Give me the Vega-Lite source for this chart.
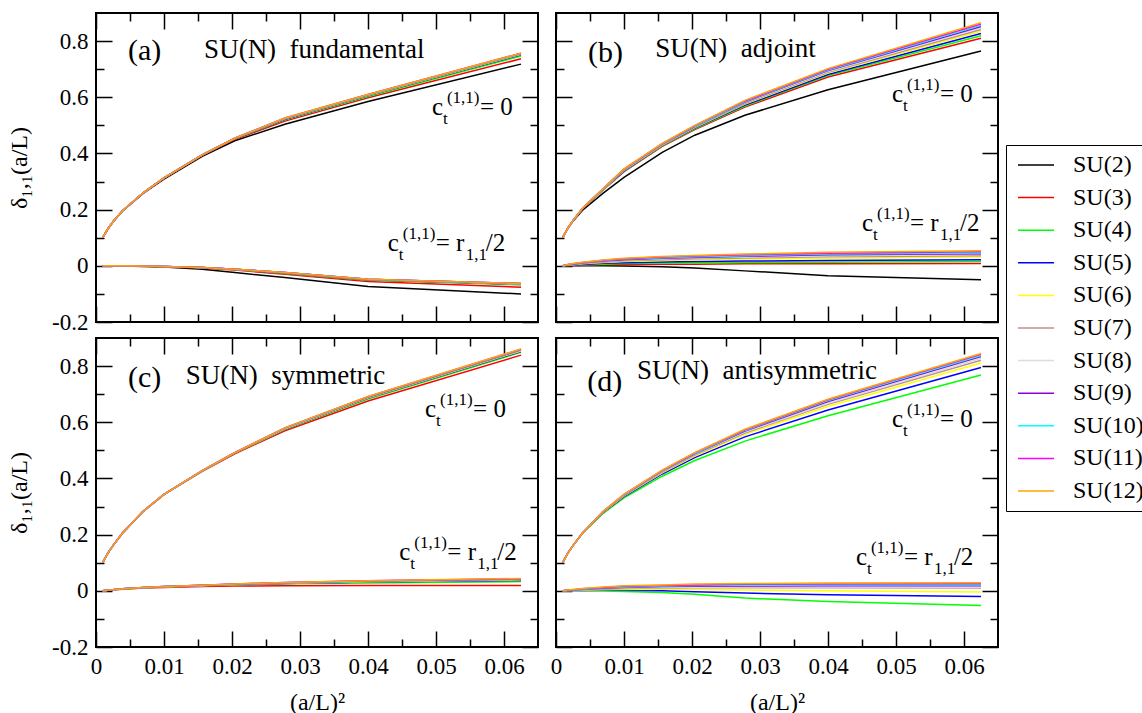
{
  "$schema": "https://vega.github.io/schema/vega-lite/v6.json",
  "background": "white",
  "padding": {"left": 6, "top": 11, "right": 0, "bottom": 0},
  "datasets": {
    "curves": [
      {"p":"a","c":"u","x":0.000977,"SU(2)":0.1,"SU(3)":0.1,"SU(4)":0.1,"SU(5)":0.1,"SU(6)":0.1,"SU(7)":0.1,"SU(8)":0.1,"SU(9)":0.1,"SU(10)":0.1,"SU(11)":0.1,"SU(12)":0.1},
      {"p":"a","c":"u","x":0.001736,"SU(2)":0.131,"SU(3)":0.131,"SU(4)":0.131,"SU(5)":0.131,"SU(6)":0.131,"SU(7)":0.131,"SU(8)":0.131,"SU(9)":0.131,"SU(10)":0.131,"SU(11)":0.131,"SU(12)":0.131},
      {"p":"a","c":"u","x":0.0025,"SU(2)":0.157,"SU(3)":0.157,"SU(4)":0.157,"SU(5)":0.157,"SU(6)":0.157,"SU(7)":0.157,"SU(8)":0.157,"SU(9)":0.157,"SU(10)":0.157,"SU(11)":0.157,"SU(12)":0.157},
      {"p":"a","c":"u","x":0.003906,"SU(2)":0.195,"SU(3)":0.196,"SU(4)":0.196,"SU(5)":0.196,"SU(6)":0.196,"SU(7)":0.196,"SU(8)":0.196,"SU(9)":0.196,"SU(10)":0.196,"SU(11)":0.196,"SU(12)":0.196},
      {"p":"a","c":"u","x":0.006944,"SU(2)":0.258,"SU(3)":0.259,"SU(4)":0.26,"SU(5)":0.26,"SU(6)":0.26,"SU(7)":0.26,"SU(8)":0.26,"SU(9)":0.26,"SU(10)":0.26,"SU(11)":0.26,"SU(12)":0.26},
      {"p":"a","c":"u","x":0.01,"SU(2)":0.309,"SU(3)":0.311,"SU(4)":0.312,"SU(5)":0.313,"SU(6)":0.313,"SU(7)":0.313,"SU(8)":0.313,"SU(9)":0.313,"SU(10)":0.313,"SU(11)":0.313,"SU(12)":0.313},
      {"p":"a","c":"u","x":0.015625,"SU(2)":0.39,"SU(3)":0.393,"SU(4)":0.394,"SU(5)":0.395,"SU(6)":0.395,"SU(7)":0.395,"SU(8)":0.395,"SU(9)":0.395,"SU(10)":0.395,"SU(11)":0.395,"SU(12)":0.395},
      {"p":"a","c":"u","x":0.020408,"SU(2)":0.445,"SU(3)":0.45,"SU(4)":0.452,"SU(5)":0.453,"SU(6)":0.454,"SU(7)":0.454,"SU(8)":0.454,"SU(9)":0.454,"SU(10)":0.454,"SU(11)":0.454,"SU(12)":0.454},
      {"p":"a","c":"u","x":0.027778,"SU(2)":0.504,"SU(3)":0.515,"SU(4)":0.52,"SU(5)":0.522,"SU(6)":0.523,"SU(7)":0.524,"SU(8)":0.524,"SU(9)":0.525,"SU(10)":0.525,"SU(11)":0.526,"SU(12)":0.526},
      {"p":"a","c":"u","x":0.04,"SU(2)":0.585,"SU(3)":0.598,"SU(4)":0.603,"SU(5)":0.606,"SU(6)":0.607,"SU(7)":0.608,"SU(8)":0.608,"SU(9)":0.609,"SU(10)":0.609,"SU(11)":0.61,"SU(12)":0.61},
      {"p":"a","c":"u","x":0.0625,"SU(2)":0.718,"SU(3)":0.737,"SU(4)":0.747,"SU(5)":0.751,"SU(6)":0.753,"SU(7)":0.754,"SU(8)":0.755,"SU(9)":0.756,"SU(10)":0.756,"SU(11)":0.757,"SU(12)":0.757},

      {"p":"a","c":"l","x":0.000977,"SU(2)":0,"SU(3)":0,"SU(4)":0,"SU(5)":0,"SU(6)":0,"SU(7)":0,"SU(8)":0,"SU(9)":0,"SU(10)":0,"SU(11)":0,"SU(12)":0},
      {"p":"a","c":"l","x":0.001736,"SU(2)":0,"SU(3)":0,"SU(4)":0,"SU(5)":0,"SU(6)":0,"SU(7)":0,"SU(8)":0,"SU(9)":0,"SU(10)":0,"SU(11)":0,"SU(12)":0},
      {"p":"a","c":"l","x":0.0025,"SU(2)":0,"SU(3)":0,"SU(4)":0,"SU(5)":0,"SU(6)":0,"SU(7)":0,"SU(8)":0,"SU(9)":0,"SU(10)":0,"SU(11)":0,"SU(12)":0},
      {"p":"a","c":"l","x":0.003906,"SU(2)":-0.001,"SU(3)":0,"SU(4)":0,"SU(5)":0,"SU(6)":0,"SU(7)":0,"SU(8)":0,"SU(9)":0,"SU(10)":0,"SU(11)":0,"SU(12)":0},
      {"p":"a","c":"l","x":0.006944,"SU(2)":-0.002,"SU(3)":-0.001,"SU(4)":-0.001,"SU(5)":-0.001,"SU(6)":-0.001,"SU(7)":-0.001,"SU(8)":-0.001,"SU(9)":-0.001,"SU(10)":-0.001,"SU(11)":-0.001,"SU(12)":-0.001},
      {"p":"a","c":"l","x":0.01,"SU(2)":-0.004,"SU(3)":-0.003,"SU(4)":-0.002,"SU(5)":-0.002,"SU(6)":-0.002,"SU(7)":-0.002,"SU(8)":-0.002,"SU(9)":-0.002,"SU(10)":-0.002,"SU(11)":-0.002,"SU(12)":-0.002},
      {"p":"a","c":"l","x":0.015625,"SU(2)":-0.012,"SU(3)":-0.008,"SU(4)":-0.007,"SU(5)":-0.006,"SU(6)":-0.006,"SU(7)":-0.006,"SU(8)":-0.006,"SU(9)":-0.006,"SU(10)":-0.006,"SU(11)":-0.006,"SU(12)":-0.006},
      {"p":"a","c":"l","x":0.020408,"SU(2)":-0.024,"SU(3)":-0.015,"SU(4)":-0.013,"SU(5)":-0.012,"SU(6)":-0.012,"SU(7)":-0.012,"SU(8)":-0.012,"SU(9)":-0.012,"SU(10)":-0.012,"SU(11)":-0.012,"SU(12)":-0.012},
      {"p":"a","c":"l","x":0.027778,"SU(2)":-0.042,"SU(3)":-0.03,"SU(4)":-0.027,"SU(5)":-0.026,"SU(6)":-0.025,"SU(7)":-0.025,"SU(8)":-0.024,"SU(9)":-0.024,"SU(10)":-0.024,"SU(11)":-0.024,"SU(12)":-0.024},
      {"p":"a","c":"l","x":0.04,"SU(2)":-0.074,"SU(3)":-0.056,"SU(4)":-0.051,"SU(5)":-0.05,"SU(6)":-0.049,"SU(7)":-0.049,"SU(8)":-0.048,"SU(9)":-0.048,"SU(10)":-0.048,"SU(11)":-0.048,"SU(12)":-0.048},
      {"p":"a","c":"l","x":0.0625,"SU(2)":-0.1,"SU(3)":-0.076,"SU(4)":-0.068,"SU(5)":-0.066,"SU(6)":-0.065,"SU(7)":-0.064,"SU(8)":-0.064,"SU(9)":-0.063,"SU(10)":-0.063,"SU(11)":-0.063,"SU(12)":-0.063},

      {"p":"b","c":"u","x":0.000977,"SU(2)":0.1,"SU(3)":0.1,"SU(4)":0.1,"SU(5)":0.1,"SU(6)":0.1,"SU(7)":0.1,"SU(8)":0.1,"SU(9)":0.1,"SU(10)":0.1,"SU(11)":0.1,"SU(12)":0.1},
      {"p":"b","c":"u","x":0.001736,"SU(2)":0.133,"SU(3)":0.134,"SU(4)":0.134,"SU(5)":0.134,"SU(6)":0.134,"SU(7)":0.134,"SU(8)":0.134,"SU(9)":0.134,"SU(10)":0.134,"SU(11)":0.134,"SU(12)":0.134},
      {"p":"b","c":"u","x":0.0025,"SU(2)":0.159,"SU(3)":0.161,"SU(4)":0.161,"SU(5)":0.161,"SU(6)":0.161,"SU(7)":0.161,"SU(8)":0.161,"SU(9)":0.161,"SU(10)":0.161,"SU(11)":0.161,"SU(12)":0.161},
      {"p":"b","c":"u","x":0.003906,"SU(2)":0.198,"SU(3)":0.203,"SU(4)":0.204,"SU(5)":0.204,"SU(6)":0.204,"SU(7)":0.205,"SU(8)":0.205,"SU(9)":0.205,"SU(10)":0.205,"SU(11)":0.205,"SU(12)":0.205},
      {"p":"b","c":"u","x":0.006944,"SU(2)":0.259,"SU(3)":0.27,"SU(4)":0.271,"SU(5)":0.272,"SU(6)":0.272,"SU(7)":0.273,"SU(8)":0.273,"SU(9)":0.274,"SU(10)":0.274,"SU(11)":0.275,"SU(12)":0.275},
      {"p":"b","c":"u","x":0.01,"SU(2)":0.315,"SU(3)":0.335,"SU(4)":0.337,"SU(5)":0.338,"SU(6)":0.34,"SU(7)":0.341,"SU(8)":0.342,"SU(9)":0.343,"SU(10)":0.343,"SU(11)":0.344,"SU(12)":0.345},
      {"p":"b","c":"u","x":0.015625,"SU(2)":0.404,"SU(3)":0.425,"SU(4)":0.427,"SU(5)":0.429,"SU(6)":0.43,"SU(7)":0.431,"SU(8)":0.432,"SU(9)":0.433,"SU(10)":0.434,"SU(11)":0.435,"SU(12)":0.436},
      {"p":"b","c":"u","x":0.020408,"SU(2)":0.465,"SU(3)":0.485,"SU(4)":0.488,"SU(5)":0.49,"SU(6)":0.492,"SU(7)":0.494,"SU(8)":0.495,"SU(9)":0.496,"SU(10)":0.497,"SU(11)":0.499,"SU(12)":0.5},
      {"p":"b","c":"u","x":0.027778,"SU(2)":0.536,"SU(3)":0.565,"SU(4)":0.569,"SU(5)":0.572,"SU(6)":0.576,"SU(7)":0.578,"SU(8)":0.581,"SU(9)":0.583,"SU(10)":0.585,"SU(11)":0.587,"SU(12)":0.589},
      {"p":"b","c":"u","x":0.04,"SU(2)":0.627,"SU(3)":0.672,"SU(4)":0.677,"SU(5)":0.681,"SU(6)":0.686,"SU(7)":0.689,"SU(8)":0.692,"SU(9)":0.695,"SU(10)":0.697,"SU(11)":0.7,"SU(12)":0.702},
      {"p":"b","c":"u","x":0.0625,"SU(2)":0.765,"SU(3)":0.81,"SU(4)":0.819,"SU(5)":0.827,"SU(6)":0.835,"SU(7)":0.841,"SU(8)":0.847,"SU(9)":0.852,"SU(10)":0.856,"SU(11)":0.861,"SU(12)":0.865},

      {"p":"b","c":"l","x":0.000977,"SU(2)":0,"SU(3)":0,"SU(4)":0,"SU(5)":0,"SU(6)":0,"SU(7)":0,"SU(8)":0,"SU(9)":0,"SU(10)":0,"SU(11)":0,"SU(12)":0},
      {"p":"b","c":"l","x":0.001736,"SU(2)":0,"SU(3)":0.001,"SU(4)":0.001,"SU(5)":0.002,"SU(6)":0.003,"SU(7)":0.003,"SU(8)":0.004,"SU(9)":0.004,"SU(10)":0.004,"SU(11)":0.005,"SU(12)":0.005},
      {"p":"b","c":"l","x":0.0025,"SU(2)":0,"SU(3)":0.001,"SU(4)":0.002,"SU(5)":0.003,"SU(6)":0.004,"SU(7)":0.005,"SU(8)":0.006,"SU(9)":0.006,"SU(10)":0.007,"SU(11)":0.007,"SU(12)":0.008},
      {"p":"b","c":"l","x":0.003906,"SU(2)":0,"SU(3)":0.002,"SU(4)":0.004,"SU(5)":0.005,"SU(6)":0.007,"SU(7)":0.008,"SU(8)":0.009,"SU(9)":0.01,"SU(10)":0.011,"SU(11)":0.012,"SU(12)":0.013},
      {"p":"b","c":"l","x":0.006944,"SU(2)":0,"SU(3)":0.004,"SU(4)":0.006,"SU(5)":0.009,"SU(6)":0.012,"SU(7)":0.014,"SU(8)":0.016,"SU(9)":0.017,"SU(10)":0.019,"SU(11)":0.02,"SU(12)":0.021},
      {"p":"b","c":"l","x":0.01,"SU(2)":-0.001,"SU(3)":0.005,"SU(4)":0.008,"SU(5)":0.011,"SU(6)":0.015,"SU(7)":0.018,"SU(8)":0.02,"SU(9)":0.022,"SU(10)":0.024,"SU(11)":0.025,"SU(12)":0.027},
      {"p":"b","c":"l","x":0.015625,"SU(2)":-0.003,"SU(3)":0.006,"SU(4)":0.01,"SU(5)":0.014,"SU(6)":0.019,"SU(7)":0.022,"SU(8)":0.025,"SU(9)":0.027,"SU(10)":0.029,"SU(11)":0.031,"SU(12)":0.033},
      {"p":"b","c":"l","x":0.020408,"SU(2)":-0.008,"SU(3)":0.006,"SU(4)":0.011,"SU(5)":0.015,"SU(6)":0.021,"SU(7)":0.025,"SU(8)":0.028,"SU(9)":0.03,"SU(10)":0.032,"SU(11)":0.035,"SU(12)":0.037},
      {"p":"b","c":"l","x":0.027778,"SU(2)":-0.018,"SU(3)":0.007,"SU(4)":0.012,"SU(5)":0.017,"SU(6)":0.024,"SU(7)":0.028,"SU(8)":0.031,"SU(9)":0.034,"SU(10)":0.036,"SU(11)":0.039,"SU(12)":0.042},
      {"p":"b","c":"l","x":0.04,"SU(2)":-0.035,"SU(3)":0.007,"SU(4)":0.013,"SU(5)":0.019,"SU(6)":0.027,"SU(7)":0.032,"SU(8)":0.036,"SU(9)":0.039,"SU(10)":0.042,"SU(11)":0.045,"SU(12)":0.048},
      {"p":"b","c":"l","x":0.0625,"SU(2)":-0.05,"SU(3)":0.008,"SU(4)":0.015,"SU(5)":0.022,"SU(6)":0.031,"SU(7)":0.036,"SU(8)":0.04,"SU(9)":0.043,"SU(10)":0.046,"SU(11)":0.05,"SU(12)":0.054},

      {"p":"c","c":"u","x":0.000977,"SU(3)":0.1,"SU(4)":0.1,"SU(5)":0.1,"SU(6)":0.1,"SU(7)":0.1,"SU(8)":0.1,"SU(9)":0.1,"SU(10)":0.1,"SU(11)":0.1,"SU(12)":0.1},
      {"p":"c","c":"u","x":0.001736,"SU(3)":0.134,"SU(4)":0.134,"SU(5)":0.134,"SU(6)":0.134,"SU(7)":0.134,"SU(8)":0.134,"SU(9)":0.134,"SU(10)":0.134,"SU(11)":0.134,"SU(12)":0.134},
      {"p":"c","c":"u","x":0.0025,"SU(3)":0.161,"SU(4)":0.161,"SU(5)":0.161,"SU(6)":0.161,"SU(7)":0.161,"SU(8)":0.161,"SU(9)":0.161,"SU(10)":0.161,"SU(11)":0.161,"SU(12)":0.161},
      {"p":"c","c":"u","x":0.003906,"SU(3)":0.206,"SU(4)":0.206,"SU(5)":0.206,"SU(6)":0.206,"SU(7)":0.206,"SU(8)":0.206,"SU(9)":0.206,"SU(10)":0.206,"SU(11)":0.206,"SU(12)":0.206},
      {"p":"c","c":"u","x":0.006944,"SU(3)":0.283,"SU(4)":0.283,"SU(5)":0.283,"SU(6)":0.283,"SU(7)":0.283,"SU(8)":0.283,"SU(9)":0.283,"SU(10)":0.283,"SU(11)":0.283,"SU(12)":0.283},
      {"p":"c","c":"u","x":0.01,"SU(3)":0.343,"SU(4)":0.343,"SU(5)":0.343,"SU(6)":0.343,"SU(7)":0.343,"SU(8)":0.343,"SU(9)":0.343,"SU(10)":0.343,"SU(11)":0.343,"SU(12)":0.343},
      {"p":"c","c":"u","x":0.015625,"SU(3)":0.425,"SU(4)":0.426,"SU(5)":0.427,"SU(6)":0.427,"SU(7)":0.427,"SU(8)":0.428,"SU(9)":0.428,"SU(10)":0.428,"SU(11)":0.428,"SU(12)":0.428},
      {"p":"c","c":"u","x":0.020408,"SU(3)":0.488,"SU(4)":0.49,"SU(5)":0.491,"SU(6)":0.491,"SU(7)":0.492,"SU(8)":0.492,"SU(9)":0.492,"SU(10)":0.492,"SU(11)":0.492,"SU(12)":0.492},
      {"p":"c","c":"u","x":0.027778,"SU(3)":0.57,"SU(4)":0.574,"SU(5)":0.576,"SU(6)":0.577,"SU(7)":0.578,"SU(8)":0.578,"SU(9)":0.579,"SU(10)":0.579,"SU(11)":0.58,"SU(12)":0.58},
      {"p":"c","c":"u","x":0.04,"SU(3)":0.676,"SU(4)":0.683,"SU(5)":0.686,"SU(6)":0.687,"SU(7)":0.688,"SU(8)":0.689,"SU(9)":0.69,"SU(10)":0.691,"SU(11)":0.691,"SU(12)":0.692},
      {"p":"c","c":"u","x":0.0625,"SU(3)":0.839,"SU(4)":0.849,"SU(5)":0.852,"SU(6)":0.854,"SU(7)":0.856,"SU(8)":0.857,"SU(9)":0.858,"SU(10)":0.859,"SU(11)":0.86,"SU(12)":0.861},

      {"p":"c","c":"l","x":0.000977,"SU(3)":0,"SU(4)":0,"SU(5)":0,"SU(6)":0,"SU(7)":0,"SU(8)":0,"SU(9)":0,"SU(10)":0,"SU(11)":0,"SU(12)":0},
      {"p":"c","c":"l","x":0.001736,"SU(3)":0.002,"SU(4)":0.002,"SU(5)":0.002,"SU(6)":0.002,"SU(7)":0.002,"SU(8)":0.002,"SU(9)":0.002,"SU(10)":0.002,"SU(11)":0.002,"SU(12)":0.002},
      {"p":"c","c":"l","x":0.0025,"SU(3)":0.004,"SU(4)":0.004,"SU(5)":0.004,"SU(6)":0.004,"SU(7)":0.004,"SU(8)":0.004,"SU(9)":0.004,"SU(10)":0.004,"SU(11)":0.004,"SU(12)":0.004},
      {"p":"c","c":"l","x":0.003906,"SU(3)":0.006,"SU(4)":0.006,"SU(5)":0.007,"SU(6)":0.007,"SU(7)":0.007,"SU(8)":0.007,"SU(9)":0.007,"SU(10)":0.007,"SU(11)":0.007,"SU(12)":0.007},
      {"p":"c","c":"l","x":0.006944,"SU(3)":0.01,"SU(4)":0.011,"SU(5)":0.011,"SU(6)":0.011,"SU(7)":0.012,"SU(8)":0.012,"SU(9)":0.012,"SU(10)":0.012,"SU(11)":0.012,"SU(12)":0.012},
      {"p":"c","c":"l","x":0.01,"SU(3)":0.012,"SU(4)":0.014,"SU(5)":0.014,"SU(6)":0.014,"SU(7)":0.015,"SU(8)":0.015,"SU(9)":0.015,"SU(10)":0.015,"SU(11)":0.015,"SU(12)":0.015},
      {"p":"c","c":"l","x":0.015625,"SU(3)":0.015,"SU(4)":0.018,"SU(5)":0.019,"SU(6)":0.019,"SU(7)":0.019,"SU(8)":0.019,"SU(9)":0.02,"SU(10)":0.02,"SU(11)":0.02,"SU(12)":0.02},
      {"p":"c","c":"l","x":0.020408,"SU(3)":0.017,"SU(4)":0.021,"SU(5)":0.022,"SU(6)":0.022,"SU(7)":0.023,"SU(8)":0.023,"SU(9)":0.023,"SU(10)":0.024,"SU(11)":0.024,"SU(12)":0.024},
      {"p":"c","c":"l","x":0.027778,"SU(3)":0.018,"SU(4)":0.025,"SU(5)":0.026,"SU(6)":0.027,"SU(7)":0.028,"SU(8)":0.029,"SU(9)":0.029,"SU(10)":0.029,"SU(11)":0.03,"SU(12)":0.03},
      {"p":"c","c":"l","x":0.04,"SU(3)":0.019,"SU(4)":0.028,"SU(5)":0.031,"SU(6)":0.032,"SU(7)":0.033,"SU(8)":0.034,"SU(9)":0.035,"SU(10)":0.035,"SU(11)":0.036,"SU(12)":0.036},
      {"p":"c","c":"l","x":0.0625,"SU(3)":0.019,"SU(4)":0.033,"SU(5)":0.037,"SU(6)":0.039,"SU(7)":0.04,"SU(8)":0.041,"SU(9)":0.042,"SU(10)":0.043,"SU(11)":0.043,"SU(12)":0.044},

      {"p":"d","c":"u","x":0.000977,"SU(4)":0.1,"SU(5)":0.1,"SU(6)":0.1,"SU(7)":0.1,"SU(8)":0.1,"SU(9)":0.1,"SU(10)":0.1,"SU(11)":0.1,"SU(12)":0.1},
      {"p":"d","c":"u","x":0.001736,"SU(4)":0.134,"SU(5)":0.134,"SU(6)":0.134,"SU(7)":0.134,"SU(8)":0.134,"SU(9)":0.134,"SU(10)":0.134,"SU(11)":0.134,"SU(12)":0.134},
      {"p":"d","c":"u","x":0.0025,"SU(4)":0.161,"SU(5)":0.161,"SU(6)":0.161,"SU(7)":0.161,"SU(8)":0.161,"SU(9)":0.161,"SU(10)":0.161,"SU(11)":0.161,"SU(12)":0.161},
      {"p":"d","c":"u","x":0.003906,"SU(4)":0.205,"SU(5)":0.206,"SU(6)":0.206,"SU(7)":0.206,"SU(8)":0.206,"SU(9)":0.206,"SU(10)":0.206,"SU(11)":0.206,"SU(12)":0.206},
      {"p":"d","c":"u","x":0.006944,"SU(4)":0.276,"SU(5)":0.279,"SU(6)":0.28,"SU(7)":0.281,"SU(8)":0.282,"SU(9)":0.282,"SU(10)":0.283,"SU(11)":0.283,"SU(12)":0.283},
      {"p":"d","c":"u","x":0.01,"SU(4)":0.331,"SU(5)":0.335,"SU(6)":0.338,"SU(7)":0.339,"SU(8)":0.34,"SU(9)":0.341,"SU(10)":0.342,"SU(11)":0.343,"SU(12)":0.343},
      {"p":"d","c":"u","x":0.015625,"SU(4)":0.408,"SU(5)":0.416,"SU(6)":0.42,"SU(7)":0.423,"SU(8)":0.425,"SU(9)":0.427,"SU(10)":0.428,"SU(11)":0.429,"SU(12)":0.43},
      {"p":"d","c":"u","x":0.020408,"SU(4)":0.464,"SU(5)":0.474,"SU(6)":0.48,"SU(7)":0.483,"SU(8)":0.486,"SU(9)":0.488,"SU(10)":0.489,"SU(11)":0.491,"SU(12)":0.492},
      {"p":"d","c":"u","x":0.027778,"SU(4)":0.533,"SU(5)":0.548,"SU(6)":0.557,"SU(7)":0.562,"SU(8)":0.565,"SU(9)":0.569,"SU(10)":0.571,"SU(11)":0.573,"SU(12)":0.575},
      {"p":"d","c":"u","x":0.04,"SU(4)":0.623,"SU(5)":0.644,"SU(6)":0.656,"SU(7)":0.664,"SU(8)":0.668,"SU(9)":0.674,"SU(10)":0.677,"SU(11)":0.68,"SU(12)":0.682},
      {"p":"d","c":"u","x":0.0625,"SU(4)":0.768,"SU(5)":0.795,"SU(6)":0.811,"SU(7)":0.821,"SU(8)":0.827,"SU(9)":0.834,"SU(10)":0.838,"SU(11)":0.842,"SU(12)":0.845},

      {"p":"d","c":"l","x":0.000977,"SU(4)":0,"SU(5)":0,"SU(6)":0,"SU(7)":0,"SU(8)":0,"SU(9)":0,"SU(10)":0,"SU(11)":0,"SU(12)":0},
      {"p":"d","c":"l","x":0.001736,"SU(4)":0,"SU(5)":0,"SU(6)":0.001,"SU(7)":0.001,"SU(8)":0.002,"SU(9)":0.002,"SU(10)":0.002,"SU(11)":0.003,"SU(12)":0.003},
      {"p":"d","c":"l","x":0.0025,"SU(4)":0,"SU(5)":0.001,"SU(6)":0.001,"SU(7)":0.002,"SU(8)":0.003,"SU(9)":0.003,"SU(10)":0.004,"SU(11)":0.004,"SU(12)":0.005},
      {"p":"d","c":"l","x":0.003906,"SU(4)":0,"SU(5)":0.001,"SU(6)":0.002,"SU(7)":0.003,"SU(8)":0.004,"SU(9)":0.005,"SU(10)":0.006,"SU(11)":0.007,"SU(12)":0.008},
      {"p":"d","c":"l","x":0.006944,"SU(4)":-0.001,"SU(5)":0.002,"SU(6)":0.004,"SU(7)":0.006,"SU(8)":0.008,"SU(9)":0.009,"SU(10)":0.011,"SU(11)":0.012,"SU(12)":0.014},
      {"p":"d","c":"l","x":0.01,"SU(4)":-0.002,"SU(5)":0.002,"SU(6)":0.005,"SU(7)":0.008,"SU(8)":0.01,"SU(9)":0.012,"SU(10)":0.014,"SU(11)":0.016,"SU(12)":0.018},
      {"p":"d","c":"l","x":0.015625,"SU(4)":-0.006,"SU(5)":0,"SU(6)":0.006,"SU(7)":0.01,"SU(8)":0.012,"SU(9)":0.015,"SU(10)":0.017,"SU(11)":0.019,"SU(12)":0.021},
      {"p":"d","c":"l","x":0.020408,"SU(4)":-0.012,"SU(5)":-0.003,"SU(6)":0.005,"SU(7)":0.011,"SU(8)":0.013,"SU(9)":0.016,"SU(10)":0.019,"SU(11)":0.021,"SU(12)":0.024},
      {"p":"d","c":"l","x":0.027778,"SU(4)":-0.026,"SU(5)":-0.008,"SU(6)":0.003,"SU(7)":0.011,"SU(8)":0.014,"SU(9)":0.017,"SU(10)":0.02,"SU(11)":0.023,"SU(12)":0.026},
      {"p":"d","c":"l","x":0.04,"SU(4)":-0.038,"SU(5)":-0.014,"SU(6)":0,"SU(7)":0.011,"SU(8)":0.014,"SU(9)":0.018,"SU(10)":0.021,"SU(11)":0.024,"SU(12)":0.028},
      {"p":"d","c":"l","x":0.0625,"SU(4)":-0.052,"SU(5)":-0.02,"SU(6)":-0.004,"SU(7)":0.01,"SU(8)":0.013,"SU(9)":0.018,"SU(10)":0.021,"SU(11)":0.025,"SU(12)":0.029}
    ],
    "titles": [
      {"p":"a","k":"l","x":0.0047,"y":0.732,"t":"(a)"},
      {"p":"a","k":"n","x":0.0159,"y":0.739,"t":"SU(N)\u00a0\u00a0fundamental"},
      {"p":"b","k":"l","x":0.0047,"y":0.725,"t":"(b)"},
      {"p":"b","k":"n","x":0.0146,"y":0.743,"t":"SU(N)\u00a0\u00a0adjoint"},
      {"p":"c","k":"l","x":0.0047,"y":0.725,"t":"(c)"},
      {"p":"c","k":"n","x":0.0132,"y":0.736,"t":"SU(N)\u00a0\u00a0symmetric"},
      {"p":"d","k":"l","x":0.0046,"y":0.711,"t":"(d)"},
      {"p":"d","k":"n","x":0.0119,"y":0.754,"t":"SU(N)\u00a0\u00a0antisymmetric"}
    ],
    "notes": [
      {"p":"a","x":0.0494,"y":0.536,"rhs":"= 0","s2":"","tail":""},
      {"p":"a","x":0.0429,"y":0.054,"rhs":"= r","s2":"1,1","tail":"/2"},
      {"p":"b","x":0.0494,"y":0.582,"rhs":"= 0","s2":"","tail":""},
      {"p":"b","x":0.045,"y":0.125,"rhs":"= r","s2":"1,1","tail":"/2"},
      {"p":"c","x":0.0484,"y":0.617,"rhs":"= 0","s2":"","tail":""},
      {"p":"c","x":0.0446,"y":0.111,"rhs":"= r","s2":"1,1","tail":"/2"},
      {"p":"d","x":0.0494,"y":0.582,"rhs":"= 0","s2":"","tail":""},
      {"p":"d","x":0.0441,"y":0.093,"rhs":"= r","s2":"1,1","tail":"/2"}
    ]
  },
  "spacing": 1,
  "vconcat": [
    {
      "bounds": "flush",
      "spacing": 18,
      "hconcat": [
        {
          "width": 442, "height": 309,
          "layer": [
            {
              "data": {"name": "curves"},
              "transform": [{"filter": "datum.p == 'a'"}, {"fold": ["SU(2)","SU(3)","SU(4)","SU(5)","SU(6)","SU(7)","SU(8)","SU(9)","SU(10)","SU(11)","SU(12)"], "as": ["n","y"]}, {"filter": "isValid(datum.y)"}],
              "mark": {"type": "line", "strokeWidth": 1.5, "clip": true},
              "encoding": {
                "x": {"field": "x", "type": "quantitative", "scale": {"domain": [0, 0.065], "nice": false, "zero": false}, "axis": {"orient": "bottom", "values": [0,0.01,0.02,0.03,0.04,0.05,0.06], "labels": false, "title": null}},
                "y": {"field": "y", "type": "quantitative", "scale": {"domain": [-0.2, 0.9], "nice": false, "zero": false}, "axis": {"orient": "left", "values": [-0.2,0,0.2,0.4,0.6,0.8], "labelExpr": "'' + round(datum.value*10)/10", "title": "δ₁,₁(a/L)"}},
                "color": {"field": "n", "type": "nominal", "scale": {"domain": ["SU(2)","SU(3)","SU(4)","SU(5)","SU(6)","SU(7)","SU(8)","SU(9)","SU(10)","SU(11)","SU(12)"], "range": ["#000000","#ff0000","#00ff00","#0000ff","#ffff00","#bc8f8f","#dcdcdc","#9400d3","#00ffff","#ff00ff","#ffa500"]}, "legend": {"orient": "none", "legendX": 910, "legendY": 132, "title": null, "symbolType": "M-1.5,0H1.5", "symbolSize": 576, "symbolStrokeWidth": 1.5, "symbolOffset": 10, "labelFont": "Liberation Serif", "labelFontSize": 24, "labelColor": "black", "labelOffset": 24, "padding": 7, "strokeColor": "black", "fillColor": "white", "rowPadding": 7.6}},
                "detail": {"field": "c"}
              }
            },
            {
              "data": {"name": "titles"},
              "transform": [{"filter": "datum.p == 'a' && datum.k == 'l'"}],
              "mark": {"type": "text", "fontSize": 30, "align": "left", "baseline": "alphabetic"},
              "encoding": {
                "x": {"field": "x", "type": "quantitative", "scale": {"domain": [0, 0.065], "nice": false, "zero": false}, "axis": {"orient": "bottom", "values": [0.005,0.015,0.025,0.035,0.045,0.055], "tickSize": -8, "labels": false, "title": null}},
                "y": {"field": "y", "type": "quantitative", "scale": {"domain": [-0.2, 0.9], "nice": false, "zero": false}, "axis": {"orient": "left", "values": [-0.1,0.1,0.3,0.5,0.7], "tickSize": -8, "labels": false, "title": null}},
                "text": {"field": "t"}
              }
            },
            {
              "data": {"name": "titles"},
              "transform": [{"filter": "datum.p == 'a' && datum.k == 'n'"}],
              "mark": {"type": "text", "fontSize": 27, "align": "left", "baseline": "alphabetic"},
              "encoding": {
                "x": {"field": "x", "type": "quantitative", "scale": {"domain": [0, 0.065], "nice": false, "zero": false}, "axis": {"orient": "top", "values": [0,0.01,0.02,0.03,0.04,0.05,0.06], "labels": false, "title": null}},
                "y": {"field": "y", "type": "quantitative", "scale": {"domain": [-0.2, 0.9], "nice": false, "zero": false}, "axis": {"orient": "right", "values": [-0.2,0,0.2,0.4,0.6,0.8], "labels": false, "title": null}},
                "text": {"field": "t"}
              }
            },
            {
              "data": {"name": "notes"},
              "transform": [{"filter": "datum.p == 'a'"}],
              "mark": {"type": "text", "fontSize": 25, "align": "left", "baseline": "alphabetic", "text": "c"},
              "encoding": {
                "x": {"field": "x", "type": "quantitative", "scale": {"domain": [0, 0.065], "nice": false, "zero": false}, "axis": {"orient": "top", "values": [0.005,0.015,0.025,0.035,0.045,0.055], "tickSize": -8, "labels": false, "title": null}},
                "y": {"field": "y", "type": "quantitative", "scale": {"domain": [-0.2, 0.9], "nice": false, "zero": false}, "axis": {"orient": "right", "values": [-0.1,0.1,0.3,0.5,0.7], "tickSize": -8, "labels": false, "title": null}}
              }
            },
            {
              "data": {"name": "notes"},
              "transform": [{"filter": "datum.p == 'a'"}],
              "mark": {"type": "text", "fontSize": 17, "align": "left", "baseline": "alphabetic", "text": "t", "dx": 11, "dy": 9},
              "encoding": {"x": {"field": "x", "type": "quantitative", "axis": null}, "y": {"field": "y", "type": "quantitative", "axis": null}}
            },
            {
              "data": {"name": "notes"},
              "transform": [{"filter": "datum.p == 'a'"}],
              "mark": {"type": "text", "fontSize": 17, "align": "left", "baseline": "alphabetic", "text": "(1,1)", "dx": 15, "dy": -12},
              "encoding": {"x": {"field": "x", "type": "quantitative", "axis": null}, "y": {"field": "y", "type": "quantitative", "axis": null}}
            },
            {
              "data": {"name": "notes"},
              "transform": [{"filter": "datum.p == 'a'"}],
              "mark": {"type": "text", "fontSize": 25, "align": "left", "baseline": "alphabetic", "dx": 48},
              "encoding": {"x": {"field": "x", "type": "quantitative", "axis": null}, "y": {"field": "y", "type": "quantitative", "axis": null}, "text": {"field": "rhs"}}
            },
            {
              "data": {"name": "notes"},
              "transform": [{"filter": "datum.p == 'a'"}],
              "mark": {"type": "text", "fontSize": 17, "align": "left", "baseline": "alphabetic", "dx": 78, "dy": 9},
              "encoding": {"x": {"field": "x", "type": "quantitative", "axis": null}, "y": {"field": "y", "type": "quantitative", "axis": null}, "text": {"field": "s2"}}
            },
            {
              "data": {"name": "notes"},
              "transform": [{"filter": "datum.p == 'a'"}],
              "mark": {"type": "text", "fontSize": 25, "align": "left", "baseline": "alphabetic", "dx": 98},
              "encoding": {"x": {"field": "x", "type": "quantitative", "axis": null}, "y": {"field": "y", "type": "quantitative", "axis": null}, "text": {"field": "tail"}}
            }
          ],
          "resolve": {"axis": {"x": "independent", "y": "independent"}}
        },
        {
          "width": 442, "height": 309,
          "layer": [
            {
              "data": {"name": "curves"},
              "transform": [{"filter": "datum.p == 'b'"}, {"fold": ["SU(2)","SU(3)","SU(4)","SU(5)","SU(6)","SU(7)","SU(8)","SU(9)","SU(10)","SU(11)","SU(12)"], "as": ["n","y"]}, {"filter": "isValid(datum.y)"}],
              "mark": {"type": "line", "strokeWidth": 1.5, "clip": true},
              "encoding": {
                "x": {"field": "x", "type": "quantitative", "scale": {"domain": [0, 0.065], "nice": false, "zero": false}, "axis": {"orient": "bottom", "values": [0,0.01,0.02,0.03,0.04,0.05,0.06], "labels": false, "title": null}},
                "y": {"field": "y", "type": "quantitative", "scale": {"domain": [-0.2, 0.9], "nice": false, "zero": false}, "axis": {"orient": "left", "values": [-0.2,0,0.2,0.4,0.6,0.8], "labels": false, "title": null}},
                "color": {"field": "n", "type": "nominal", "scale": {"domain": ["SU(2)","SU(3)","SU(4)","SU(5)","SU(6)","SU(7)","SU(8)","SU(9)","SU(10)","SU(11)","SU(12)"], "range": ["#000000","#ff0000","#00ff00","#0000ff","#ffff00","#bc8f8f","#dcdcdc","#9400d3","#00ffff","#ff00ff","#ffa500"]}, "legend": {"orient": "none", "legendX": 910, "legendY": 132, "title": null, "symbolType": "M-1.5,0H1.5", "symbolSize": 576, "symbolStrokeWidth": 1.5, "symbolOffset": 10, "labelFont": "Liberation Serif", "labelFontSize": 24, "labelColor": "black", "labelOffset": 24, "padding": 7, "strokeColor": "black", "fillColor": "white", "rowPadding": 7.6}},
                "detail": {"field": "c"}
              }
            },
            {
              "data": {"name": "titles"},
              "transform": [{"filter": "datum.p == 'b' && datum.k == 'l'"}],
              "mark": {"type": "text", "fontSize": 30, "align": "left", "baseline": "alphabetic"},
              "encoding": {
                "x": {"field": "x", "type": "quantitative", "scale": {"domain": [0, 0.065], "nice": false, "zero": false}, "axis": {"orient": "bottom", "values": [0.005,0.015,0.025,0.035,0.045,0.055], "tickSize": -8, "labels": false, "title": null}},
                "y": {"field": "y", "type": "quantitative", "scale": {"domain": [-0.2, 0.9], "nice": false, "zero": false}, "axis": {"orient": "left", "values": [-0.1,0.1,0.3,0.5,0.7], "tickSize": -8, "labels": false, "title": null}},
                "text": {"field": "t"}
              }
            },
            {
              "data": {"name": "titles"},
              "transform": [{"filter": "datum.p == 'b' && datum.k == 'n'"}],
              "mark": {"type": "text", "fontSize": 27, "align": "left", "baseline": "alphabetic"},
              "encoding": {
                "x": {"field": "x", "type": "quantitative", "scale": {"domain": [0, 0.065], "nice": false, "zero": false}, "axis": {"orient": "top", "values": [0,0.01,0.02,0.03,0.04,0.05,0.06], "labels": false, "title": null}},
                "y": {"field": "y", "type": "quantitative", "scale": {"domain": [-0.2, 0.9], "nice": false, "zero": false}, "axis": {"orient": "right", "values": [-0.2,0,0.2,0.4,0.6,0.8], "labels": false, "title": null}},
                "text": {"field": "t"}
              }
            },
            {
              "data": {"name": "notes"},
              "transform": [{"filter": "datum.p == 'b'"}],
              "mark": {"type": "text", "fontSize": 25, "align": "left", "baseline": "alphabetic", "text": "c"},
              "encoding": {
                "x": {"field": "x", "type": "quantitative", "scale": {"domain": [0, 0.065], "nice": false, "zero": false}, "axis": {"orient": "top", "values": [0.005,0.015,0.025,0.035,0.045,0.055], "tickSize": -8, "labels": false, "title": null}},
                "y": {"field": "y", "type": "quantitative", "scale": {"domain": [-0.2, 0.9], "nice": false, "zero": false}, "axis": {"orient": "right", "values": [-0.1,0.1,0.3,0.5,0.7], "tickSize": -8, "labels": false, "title": null}}
              }
            },
            {
              "data": {"name": "notes"},
              "transform": [{"filter": "datum.p == 'b'"}],
              "mark": {"type": "text", "fontSize": 17, "align": "left", "baseline": "alphabetic", "text": "t", "dx": 11, "dy": 9},
              "encoding": {"x": {"field": "x", "type": "quantitative", "axis": null}, "y": {"field": "y", "type": "quantitative", "axis": null}}
            },
            {
              "data": {"name": "notes"},
              "transform": [{"filter": "datum.p == 'b'"}],
              "mark": {"type": "text", "fontSize": 17, "align": "left", "baseline": "alphabetic", "text": "(1,1)", "dx": 15, "dy": -12},
              "encoding": {"x": {"field": "x", "type": "quantitative", "axis": null}, "y": {"field": "y", "type": "quantitative", "axis": null}}
            },
            {
              "data": {"name": "notes"},
              "transform": [{"filter": "datum.p == 'b'"}],
              "mark": {"type": "text", "fontSize": 25, "align": "left", "baseline": "alphabetic", "dx": 48},
              "encoding": {"x": {"field": "x", "type": "quantitative", "axis": null}, "y": {"field": "y", "type": "quantitative", "axis": null}, "text": {"field": "rhs"}}
            },
            {
              "data": {"name": "notes"},
              "transform": [{"filter": "datum.p == 'b'"}],
              "mark": {"type": "text", "fontSize": 17, "align": "left", "baseline": "alphabetic", "dx": 78, "dy": 9},
              "encoding": {"x": {"field": "x", "type": "quantitative", "axis": null}, "y": {"field": "y", "type": "quantitative", "axis": null}, "text": {"field": "s2"}}
            },
            {
              "data": {"name": "notes"},
              "transform": [{"filter": "datum.p == 'b'"}],
              "mark": {"type": "text", "fontSize": 25, "align": "left", "baseline": "alphabetic", "dx": 98},
              "encoding": {"x": {"field": "x", "type": "quantitative", "axis": null}, "y": {"field": "y", "type": "quantitative", "axis": null}, "text": {"field": "tail"}}
            }
          ],
          "resolve": {"axis": {"x": "independent", "y": "independent"}}
        }
      ]
    },
    {
      "bounds": "flush",
      "spacing": 18,
      "hconcat": [
        {
          "width": 442, "height": 309,
          "layer": [
            {
              "data": {"name": "curves"},
              "transform": [{"filter": "datum.p == 'c'"}, {"fold": ["SU(2)","SU(3)","SU(4)","SU(5)","SU(6)","SU(7)","SU(8)","SU(9)","SU(10)","SU(11)","SU(12)"], "as": ["n","y"]}, {"filter": "isValid(datum.y)"}],
              "mark": {"type": "line", "strokeWidth": 1.5, "clip": true},
              "encoding": {
                "x": {"field": "x", "type": "quantitative", "scale": {"domain": [0, 0.065], "nice": false, "zero": false}, "axis": {"orient": "bottom", "values": [0,0.01,0.02,0.03,0.04,0.05,0.06], "labelExpr": "'' + round(datum.value*100)/100", "title": "(a/L)²", "titlePadding": 12}},
                "y": {"field": "y", "type": "quantitative", "scale": {"domain": [-0.2, 0.9], "nice": false, "zero": false}, "axis": {"orient": "left", "values": [-0.2,0,0.2,0.4,0.6,0.8], "labelExpr": "'' + round(datum.value*10)/10", "title": "δ₁,₁(a/L)"}},
                "color": {"field": "n", "type": "nominal", "scale": {"domain": ["SU(2)","SU(3)","SU(4)","SU(5)","SU(6)","SU(7)","SU(8)","SU(9)","SU(10)","SU(11)","SU(12)"], "range": ["#000000","#ff0000","#00ff00","#0000ff","#ffff00","#bc8f8f","#dcdcdc","#9400d3","#00ffff","#ff00ff","#ffa500"]}, "legend": {"orient": "none", "legendX": 910, "legendY": 132, "title": null, "symbolType": "M-1.5,0H1.5", "symbolSize": 576, "symbolStrokeWidth": 1.5, "symbolOffset": 10, "labelFont": "Liberation Serif", "labelFontSize": 24, "labelColor": "black", "labelOffset": 24, "padding": 7, "strokeColor": "black", "fillColor": "white", "rowPadding": 7.6}},
                "detail": {"field": "c"}
              }
            },
            {
              "data": {"name": "titles"},
              "transform": [{"filter": "datum.p == 'c' && datum.k == 'l'"}],
              "mark": {"type": "text", "fontSize": 30, "align": "left", "baseline": "alphabetic"},
              "encoding": {
                "x": {"field": "x", "type": "quantitative", "scale": {"domain": [0, 0.065], "nice": false, "zero": false}, "axis": {"orient": "bottom", "values": [0.005,0.015,0.025,0.035,0.045,0.055], "tickSize": -8, "labels": false, "title": null}},
                "y": {"field": "y", "type": "quantitative", "scale": {"domain": [-0.2, 0.9], "nice": false, "zero": false}, "axis": {"orient": "left", "values": [-0.1,0.1,0.3,0.5,0.7], "tickSize": -8, "labels": false, "title": null}},
                "text": {"field": "t"}
              }
            },
            {
              "data": {"name": "titles"},
              "transform": [{"filter": "datum.p == 'c' && datum.k == 'n'"}],
              "mark": {"type": "text", "fontSize": 27, "align": "left", "baseline": "alphabetic"},
              "encoding": {
                "x": {"field": "x", "type": "quantitative", "scale": {"domain": [0, 0.065], "nice": false, "zero": false}, "axis": {"orient": "top", "values": [0,0.01,0.02,0.03,0.04,0.05,0.06], "labels": false, "title": null}},
                "y": {"field": "y", "type": "quantitative", "scale": {"domain": [-0.2, 0.9], "nice": false, "zero": false}, "axis": {"orient": "right", "values": [-0.2,0,0.2,0.4,0.6,0.8], "labels": false, "title": null}},
                "text": {"field": "t"}
              }
            },
            {
              "data": {"name": "notes"},
              "transform": [{"filter": "datum.p == 'c'"}],
              "mark": {"type": "text", "fontSize": 25, "align": "left", "baseline": "alphabetic", "text": "c"},
              "encoding": {
                "x": {"field": "x", "type": "quantitative", "scale": {"domain": [0, 0.065], "nice": false, "zero": false}, "axis": {"orient": "top", "values": [0.005,0.015,0.025,0.035,0.045,0.055], "tickSize": -8, "labels": false, "title": null}},
                "y": {"field": "y", "type": "quantitative", "scale": {"domain": [-0.2, 0.9], "nice": false, "zero": false}, "axis": {"orient": "right", "values": [-0.1,0.1,0.3,0.5,0.7], "tickSize": -8, "labels": false, "title": null}}
              }
            },
            {
              "data": {"name": "notes"},
              "transform": [{"filter": "datum.p == 'c'"}],
              "mark": {"type": "text", "fontSize": 17, "align": "left", "baseline": "alphabetic", "text": "t", "dx": 11, "dy": 9},
              "encoding": {"x": {"field": "x", "type": "quantitative", "axis": null}, "y": {"field": "y", "type": "quantitative", "axis": null}}
            },
            {
              "data": {"name": "notes"},
              "transform": [{"filter": "datum.p == 'c'"}],
              "mark": {"type": "text", "fontSize": 17, "align": "left", "baseline": "alphabetic", "text": "(1,1)", "dx": 15, "dy": -12},
              "encoding": {"x": {"field": "x", "type": "quantitative", "axis": null}, "y": {"field": "y", "type": "quantitative", "axis": null}}
            },
            {
              "data": {"name": "notes"},
              "transform": [{"filter": "datum.p == 'c'"}],
              "mark": {"type": "text", "fontSize": 25, "align": "left", "baseline": "alphabetic", "dx": 48},
              "encoding": {"x": {"field": "x", "type": "quantitative", "axis": null}, "y": {"field": "y", "type": "quantitative", "axis": null}, "text": {"field": "rhs"}}
            },
            {
              "data": {"name": "notes"},
              "transform": [{"filter": "datum.p == 'c'"}],
              "mark": {"type": "text", "fontSize": 17, "align": "left", "baseline": "alphabetic", "dx": 78, "dy": 9},
              "encoding": {"x": {"field": "x", "type": "quantitative", "axis": null}, "y": {"field": "y", "type": "quantitative", "axis": null}, "text": {"field": "s2"}}
            },
            {
              "data": {"name": "notes"},
              "transform": [{"filter": "datum.p == 'c'"}],
              "mark": {"type": "text", "fontSize": 25, "align": "left", "baseline": "alphabetic", "dx": 98},
              "encoding": {"x": {"field": "x", "type": "quantitative", "axis": null}, "y": {"field": "y", "type": "quantitative", "axis": null}, "text": {"field": "tail"}}
            }
          ],
          "resolve": {"axis": {"x": "independent", "y": "independent"}}
        },
        {
          "width": 442, "height": 309,
          "layer": [
            {
              "data": {"name": "curves"},
              "transform": [{"filter": "datum.p == 'd'"}, {"fold": ["SU(2)","SU(3)","SU(4)","SU(5)","SU(6)","SU(7)","SU(8)","SU(9)","SU(10)","SU(11)","SU(12)"], "as": ["n","y"]}, {"filter": "isValid(datum.y)"}],
              "mark": {"type": "line", "strokeWidth": 1.5, "clip": true},
              "encoding": {
                "x": {"field": "x", "type": "quantitative", "scale": {"domain": [0, 0.065], "nice": false, "zero": false}, "axis": {"orient": "bottom", "values": [0,0.01,0.02,0.03,0.04,0.05,0.06], "labelExpr": "'' + round(datum.value*100)/100", "title": "(a/L)²", "titlePadding": 12}},
                "y": {"field": "y", "type": "quantitative", "scale": {"domain": [-0.2, 0.9], "nice": false, "zero": false}, "axis": {"orient": "left", "values": [-0.2,0,0.2,0.4,0.6,0.8], "labels": false, "title": null}},
                "color": {"field": "n", "type": "nominal", "scale": {"domain": ["SU(2)","SU(3)","SU(4)","SU(5)","SU(6)","SU(7)","SU(8)","SU(9)","SU(10)","SU(11)","SU(12)"], "range": ["#000000","#ff0000","#00ff00","#0000ff","#ffff00","#bc8f8f","#dcdcdc","#9400d3","#00ffff","#ff00ff","#ffa500"]}, "legend": {"orient": "none", "legendX": 910, "legendY": 132, "title": null, "symbolType": "M-1.5,0H1.5", "symbolSize": 576, "symbolStrokeWidth": 1.5, "symbolOffset": 10, "labelFont": "Liberation Serif", "labelFontSize": 24, "labelColor": "black", "labelOffset": 24, "padding": 7, "strokeColor": "black", "fillColor": "white", "rowPadding": 7.6}},
                "detail": {"field": "c"}
              }
            },
            {
              "data": {"name": "titles"},
              "transform": [{"filter": "datum.p == 'd' && datum.k == 'l'"}],
              "mark": {"type": "text", "fontSize": 30, "align": "left", "baseline": "alphabetic"},
              "encoding": {
                "x": {"field": "x", "type": "quantitative", "scale": {"domain": [0, 0.065], "nice": false, "zero": false}, "axis": {"orient": "bottom", "values": [0.005,0.015,0.025,0.035,0.045,0.055], "tickSize": -8, "labels": false, "title": null}},
                "y": {"field": "y", "type": "quantitative", "scale": {"domain": [-0.2, 0.9], "nice": false, "zero": false}, "axis": {"orient": "left", "values": [-0.1,0.1,0.3,0.5,0.7], "tickSize": -8, "labels": false, "title": null}},
                "text": {"field": "t"}
              }
            },
            {
              "data": {"name": "titles"},
              "transform": [{"filter": "datum.p == 'd' && datum.k == 'n'"}],
              "mark": {"type": "text", "fontSize": 27, "align": "left", "baseline": "alphabetic"},
              "encoding": {
                "x": {"field": "x", "type": "quantitative", "scale": {"domain": [0, 0.065], "nice": false, "zero": false}, "axis": {"orient": "top", "values": [0,0.01,0.02,0.03,0.04,0.05,0.06], "labels": false, "title": null}},
                "y": {"field": "y", "type": "quantitative", "scale": {"domain": [-0.2, 0.9], "nice": false, "zero": false}, "axis": {"orient": "right", "values": [-0.2,0,0.2,0.4,0.6,0.8], "labels": false, "title": null}},
                "text": {"field": "t"}
              }
            },
            {
              "data": {"name": "notes"},
              "transform": [{"filter": "datum.p == 'd'"}],
              "mark": {"type": "text", "fontSize": 25, "align": "left", "baseline": "alphabetic", "text": "c"},
              "encoding": {
                "x": {"field": "x", "type": "quantitative", "scale": {"domain": [0, 0.065], "nice": false, "zero": false}, "axis": {"orient": "top", "values": [0.005,0.015,0.025,0.035,0.045,0.055], "tickSize": -8, "labels": false, "title": null}},
                "y": {"field": "y", "type": "quantitative", "scale": {"domain": [-0.2, 0.9], "nice": false, "zero": false}, "axis": {"orient": "right", "values": [-0.1,0.1,0.3,0.5,0.7], "tickSize": -8, "labels": false, "title": null}}
              }
            },
            {
              "data": {"name": "notes"},
              "transform": [{"filter": "datum.p == 'd'"}],
              "mark": {"type": "text", "fontSize": 17, "align": "left", "baseline": "alphabetic", "text": "t", "dx": 11, "dy": 9},
              "encoding": {"x": {"field": "x", "type": "quantitative", "axis": null}, "y": {"field": "y", "type": "quantitative", "axis": null}}
            },
            {
              "data": {"name": "notes"},
              "transform": [{"filter": "datum.p == 'd'"}],
              "mark": {"type": "text", "fontSize": 17, "align": "left", "baseline": "alphabetic", "text": "(1,1)", "dx": 15, "dy": -12},
              "encoding": {"x": {"field": "x", "type": "quantitative", "axis": null}, "y": {"field": "y", "type": "quantitative", "axis": null}}
            },
            {
              "data": {"name": "notes"},
              "transform": [{"filter": "datum.p == 'd'"}],
              "mark": {"type": "text", "fontSize": 25, "align": "left", "baseline": "alphabetic", "dx": 48},
              "encoding": {"x": {"field": "x", "type": "quantitative", "axis": null}, "y": {"field": "y", "type": "quantitative", "axis": null}, "text": {"field": "rhs"}}
            },
            {
              "data": {"name": "notes"},
              "transform": [{"filter": "datum.p == 'd'"}],
              "mark": {"type": "text", "fontSize": 17, "align": "left", "baseline": "alphabetic", "dx": 78, "dy": 9},
              "encoding": {"x": {"field": "x", "type": "quantitative", "axis": null}, "y": {"field": "y", "type": "quantitative", "axis": null}, "text": {"field": "s2"}}
            },
            {
              "data": {"name": "notes"},
              "transform": [{"filter": "datum.p == 'd'"}],
              "mark": {"type": "text", "fontSize": 25, "align": "left", "baseline": "alphabetic", "dx": 98},
              "encoding": {"x": {"field": "x", "type": "quantitative", "axis": null}, "y": {"field": "y", "type": "quantitative", "axis": null}, "text": {"field": "tail"}}
            }
          ],
          "resolve": {"axis": {"x": "independent", "y": "independent"}}
        }
      ]
    }
  ],
  "config": {
    "view": {"stroke": "black", "strokeWidth": 2},
    "axis": {"domain": false, "grid": false, "ticks": true, "tickColor": "black", "tickWidth": 1.5, "tickSize": -16, "labelFont": "Liberation Serif", "labelFontSize": 23, "labelColor": "black", "labelPadding": 24, "labelFlush": false, "labelOverlap": false, "titleFont": "Liberation Serif", "titleFontSize": 24, "titleFontWeight": "normal", "titleColor": "black", "titlePadding": 20},
    "text": {"font": "Liberation Serif", "color": "black"}
  }
}
